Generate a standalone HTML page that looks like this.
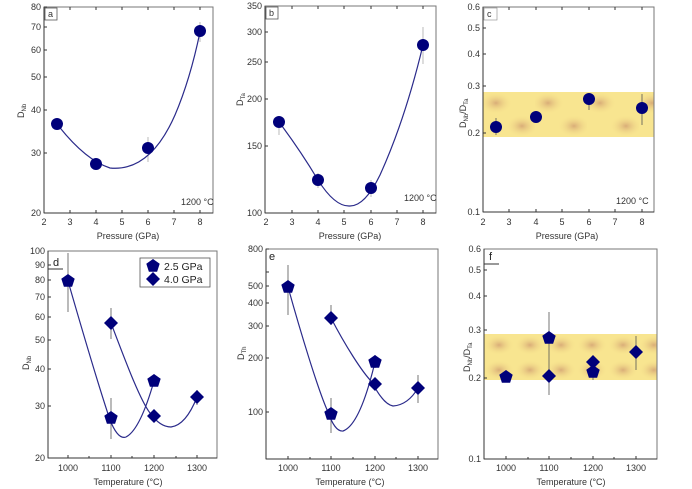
<!DOCTYPE html>
<html><head><meta charset="utf-8"><style>
html,body{margin:0;padding:0;background:#fff;}
svg{display:block;font-family:"Liberation Sans",sans-serif;}
.t{font-size:9px;fill:#333;}
.ax{font-size:9px;fill:#333;}
</style></head><body>
<svg width="692" height="489" viewBox="0 0 692 489" xmlns="http://www.w3.org/2000/svg">
<defs>
<path id="pent" d="M0,-7 L6.7,-2.2 L4.1,5.7 L-4.1,5.7 L-6.7,-2.2Z" fill="#00007a"/>
<path id="dia" d="M0,-7 L7,0 L0,7 L-7,0Z" fill="#00007a"/>
<radialGradient id="rg"><stop offset="0" stop-color="#d9ad78"/><stop offset="1" stop-color="#f7e28c" stop-opacity="0"/></radialGradient>
<pattern id="band1" x="483" y="92" width="52" height="45" patternUnits="userSpaceOnUse">
<rect width="52" height="45" fill="#f8e590"/>
<ellipse cx="13" cy="11" rx="16" ry="11" fill="url(#rg)"/>
<ellipse cx="39" cy="34" rx="16" ry="11" fill="url(#rg)"/>
</pattern>
<pattern id="band2" x="484" y="334" width="62" height="46" patternUnits="userSpaceOnUse">
<rect width="62" height="46" fill="#f8e590"/>
<ellipse cx="15" cy="11" rx="15" ry="10" fill="url(#rg)"/>
<ellipse cx="46" cy="11" rx="15" ry="10" fill="url(#rg)"/>
<ellipse cx="15" cy="36" rx="15" ry="10" fill="url(#rg)"/>
<ellipse cx="46" cy="36" rx="15" ry="10" fill="url(#rg)"/>
</pattern>
</defs>

<!-- ===== Panel a ===== -->
<rect x="44" y="7" width="169" height="206" fill="none" stroke="#777" stroke-width="1"/>
<g stroke="#333" stroke-width="1">
<line x1="44" y1="7" x2="44" y2="213"/><line x1="44" y1="213" x2="213" y2="213"/>
<path d="M44,153h3M44,110h3M44,77h3M44,50h3M44,27h3M44,7h3 M70,213v-3M96,213v-3M122,213v-3M148,213v-3M174,213v-3M200,213v-3 M70,7v3M96,7v3M122,7v3M148,7v3M174,7v3M200,7v3"/>
</g>
<g class="t" text-anchor="end"><text x="41" y="216">20</text><text x="41" y="156">30</text><text x="41" y="113">40</text><text x="41" y="80">50</text><text x="41" y="53">60</text><text x="41" y="30">70</text><text x="41" y="10">80</text></g>
<g class="t" text-anchor="middle"><text x="44" y="225">2</text><text x="70" y="225">3</text><text x="96" y="225">4</text><text x="122" y="225">5</text><text x="148" y="225">6</text><text x="174" y="225">7</text><text x="200" y="225">8</text></g>
<text class="ax" x="128" y="239" text-anchor="middle">Pressure (GPa)</text>
<text class="ax" transform="translate(24,118) rotate(-90)">D<tspan font-size="6" dy="2">Nb</tspan></text>
<rect x="45" y="8" width="12" height="12" fill="#fff" stroke="#555" stroke-width="0.8"/><text class="t" x="48" y="17">a</text>
<text class="t" x="181" y="205" font-size="8">1200 °C</text>
<path d="M148,137V162M200,22V42" stroke="#aaa" stroke-width="0.8"/>
<path d="M57,124 Q85,160 110,168 Q150,172 175,115 Q190,80 200,32" fill="none" stroke="#2a2a8a" stroke-width="1.2"/>
<g fill="#00007a"><circle cx="57" cy="124" r="6"/><circle cx="96" cy="164" r="6"/><circle cx="148" cy="148" r="6"/><circle cx="200" cy="31" r="6"/></g>

<!-- ===== Panel b ===== -->
<rect x="265" y="6" width="171" height="207" fill="none" stroke="#777"/>
<g stroke="#333"><line x1="265" y1="6" x2="265" y2="213"/><line x1="265" y1="213" x2="436" y2="213"/>
<path d="M265,146h3M265,99h3M265,62h3M265,32h3M292,213v-3M318,213v-3M344,213v-3M371,213v-3M397,213v-3M423,213v-3M292,6v3M318,6v3M344,6v3M371,6v3M397,6v3M423,6v3"/></g>
<g class="t" text-anchor="end"><text x="262" y="216">100</text><text x="262" y="149">150</text><text x="262" y="102">200</text><text x="262" y="65">250</text><text x="262" y="35">300</text><text x="262" y="9">350</text></g>
<g class="t" text-anchor="middle"><text x="266" y="225">2</text><text x="292" y="225">3</text><text x="318" y="225">4</text><text x="344" y="225">5</text><text x="371" y="225">6</text><text x="397" y="225">7</text><text x="423" y="225">8</text></g>
<text class="ax" x="350" y="239" text-anchor="middle">Pressure (GPa)</text>
<text class="ax" transform="translate(243,106) rotate(-90)">D<tspan font-size="6" dy="2">Ta</tspan></text>
<rect x="266" y="7" width="12" height="12" fill="#fff" stroke="#555" stroke-width="0.8"/><text class="t" x="269" y="16">b</text>
<text class="t" x="404" y="201" font-size="7">1200 °C</text>
<path d="M279,122V135M318,173V188M371,180V197M423,27V64" stroke="#aaa" stroke-width="0.8"/>
<path d="M279,122 Q300,150 318,180 Q335,207 350,206 Q365,206 380,175 Q405,120 423,45" fill="none" stroke="#2a2a8a" stroke-width="1.2"/>
<g fill="#00007a"><circle cx="279" cy="122" r="6"/><circle cx="318" cy="180" r="6"/><circle cx="371" cy="188" r="6"/><circle cx="423" cy="45" r="6"/></g>

<!-- ===== Panel c ===== -->
<rect x="483" y="92" width="171" height="45" fill="url(#band1)"/>
<rect x="483" y="7" width="171" height="205" fill="none" stroke="#777"/>
<g stroke="#333"><line x1="483" y1="7" x2="483" y2="212"/><line x1="483" y1="212" x2="654" y2="212"/>
<path d="M483,133h3M483,86h3M483,54h3M483,28h3M509,212v-3M536,212v-3M562,212v-3M589,212v-3M615,212v-3M642,212v-3M509,7v3M536,7v3M562,7v3M589,7v3M615,7v3M642,7v3"/></g>
<g class="t" text-anchor="end"><text x="480" y="215">0.1</text><text x="480" y="136">0.2</text><text x="480" y="89">0.3</text><text x="480" y="57">0.4</text><text x="480" y="31">0.5</text><text x="480" y="10">0.6</text></g>
<g class="t" text-anchor="middle"><text x="483" y="225">2</text><text x="509" y="225">3</text><text x="536" y="225">4</text><text x="562" y="225">5</text><text x="589" y="225">6</text><text x="615" y="225">7</text><text x="642" y="225">8</text></g>
<text class="ax" x="567" y="239" text-anchor="middle">Pressure (GPa)</text>
<text class="ax" transform="translate(466,128) rotate(-90)">D<tspan font-size="6" dy="2">Nb</tspan><tspan dy="-2">/D</tspan><tspan font-size="6" dy="2">Ta</tspan></text>
<rect x="484" y="8" width="13" height="12" fill="#fff" stroke="#888" stroke-width="0.6"/><text class="t" x="487" y="17">c</text>
<text class="t" x="616" y="204">1200 °C</text>
<path d="M496,118V135M536,112V122M589,97V110M642,94V125" stroke="#555" stroke-width="0.8"/>
<g fill="#00007a"><circle cx="496" cy="127" r="6"/><circle cx="536" cy="117" r="6"/><circle cx="589" cy="99" r="6"/><circle cx="642" cy="108" r="6"/></g>

<!-- ===== Panel d ===== -->
<rect x="48" y="251" width="169" height="207" fill="none" stroke="#777"/>
<g stroke="#333"><line x1="48" y1="251" x2="48" y2="458"/><line x1="48" y1="458" x2="217" y2="458"/>
<path d="M48,406h3M48,369h3M48,340h3M48,317h3M48,297h3M48,280h3M48,265h3M68,458v-3M111,458v-3M154,458v-3M197,458v-3M89,458v-2M132,458v-2M176,458v-2"/></g>
<g class="t" text-anchor="end"><text x="45" y="461">20</text><text x="45" y="409">30</text><text x="45" y="372">40</text><text x="45" y="343">50</text><text x="45" y="320">60</text><text x="45" y="300">70</text><text x="45" y="283">80</text><text x="45" y="268">90</text><text x="45" y="254">100</text></g>
<g class="t" text-anchor="middle"><text x="68" y="471">1000</text><text x="111" y="471">1100</text><text x="154" y="471">1200</text><text x="197" y="471">1300</text></g>
<text class="ax" x="128" y="485" text-anchor="middle">Temperature (°C)</text>
<text class="ax" transform="translate(29,370) rotate(-90)">D<tspan font-size="6" dy="2">Nb</tspan></text>
<text x="53" y="266" font-size="11" fill="#222">d</text><line x1="48" y1="269" x2="63" y2="269" stroke="#333"/>
<path d="M68,253V312M111,398V439M111,308V339M197,390V405" stroke="#555" stroke-width="0.8"/>
<path d="M68,281 C85,340 100,390 110,420 Q118,440 126,437 Q140,430 154,381" fill="none" stroke="#2a2a8a" stroke-width="1.2"/>
<path d="M111,323 C125,360 140,400 150,413 Q160,427 171,427 Q186,425 197,397" fill="none" stroke="#2a2a8a" stroke-width="1.2"/>
<use href="#pent" x="68" y="281"/><use href="#pent" x="111" y="418"/><use href="#pent" x="154" y="381"/>
<use href="#dia" x="111" y="323"/><use href="#dia" x="154" y="416"/><use href="#dia" x="197" y="397"/>
<rect x="140" y="258" width="70" height="29" fill="#fff" stroke="#555" stroke-width="0.8"/>
<use href="#pent" x="153" y="266" transform="translate(0,0)"/><use href="#dia" x="153" y="279"/>
<text x="164" y="270" font-size="10.5" fill="#222">2.5 GPa</text><text x="164" y="283" font-size="10.5" fill="#222">4.0 GPa</text>

<!-- ===== Panel e ===== -->
<rect x="266" y="249" width="172" height="210" fill="none" stroke="#777"/>
<g stroke="#333"><line x1="266" y1="249" x2="266" y2="459"/><line x1="266" y1="459" x2="438" y2="459"/>
<path d="M266,412h3M266,358h3M266,326h3M266,303h3M266,286h3M266,272h3M266,249h3M288,459v-3M331,459v-3M375,459v-3M418,459v-3M310,459v-2M353,459v-2M396,459v-2"/></g>
<g class="t" text-anchor="end"><text x="263" y="415">100</text><text x="263" y="361">200</text><text x="263" y="329">300</text><text x="263" y="306">400</text><text x="263" y="289">500</text><text x="263" y="252">800</text></g>
<g class="t" text-anchor="middle"><text x="288" y="471">1000</text><text x="331" y="471">1100</text><text x="375" y="471">1200</text><text x="418" y="471">1300</text></g>
<text class="ax" x="350" y="485" text-anchor="middle">Temperature (°C)</text>
<text class="ax" transform="translate(244,360) rotate(-90)">D<tspan font-size="6" dy="2">Th</tspan></text>
<text x="269" y="260" font-size="11" fill="#222">e</text>
<path d="M288,265V315M331,398V433M331,305V325M375,355V368M418,375V403" stroke="#555" stroke-width="0.8"/>
<path d="M288,287 C300,330 318,390 328,412 Q335,432 343,431 Q360,425 375,362" fill="none" stroke="#2a2a8a" stroke-width="1.2"/>
<path d="M331,318 C345,345 362,372 372,382 Q383,404 393,406 Q408,405 418,388" fill="none" stroke="#2a2a8a" stroke-width="1.2"/>
<use href="#pent" x="288" y="287"/><use href="#pent" x="331" y="414"/><use href="#pent" x="375" y="362"/>
<use href="#dia" x="331" y="318"/><use href="#dia" x="375" y="384"/><use href="#dia" x="418" y="388"/>

<!-- ===== Panel f ===== -->
<rect x="484" y="334" width="173" height="46" fill="url(#band2)"/>
<rect x="484" y="249" width="173" height="210" fill="none" stroke="#777"/>
<g stroke="#333"><line x1="484" y1="249" x2="484" y2="459"/><line x1="484" y1="459" x2="657" y2="459"/>
<path d="M484,378h3M484,330h3M484,296h3M484,270h3M506,459v-3M549,459v-3M593,459v-3M636,459v-3M528,459v-2M571,459v-2M614,459v-2"/></g>
<g class="t" text-anchor="end"><text x="481" y="462">0.1</text><text x="481" y="381">0.2</text><text x="481" y="333">0.3</text><text x="481" y="299">0.4</text><text x="481" y="273">0.5</text><text x="481" y="252">0.6</text></g>
<g class="t" text-anchor="middle"><text x="506" y="471">1000</text><text x="549" y="471">1100</text><text x="593" y="471">1200</text><text x="636" y="471">1300</text></g>
<text class="ax" x="571" y="485" text-anchor="middle">Temperature (°C)</text>
<text class="ax" transform="translate(470,372) rotate(-90)">D<tspan font-size="6" dy="2">Nb</tspan><tspan dy="-2">/D</tspan><tspan font-size="6" dy="2">Ta</tspan></text>
<text x="489" y="260" font-size="11" fill="#222">f</text><line x1="484" y1="264" x2="499" y2="264" stroke="#333"/>
<path d="M549,312V395M593,367V380M636,336V370" stroke="#555" stroke-width="0.8"/>
<use href="#pent" x="506" y="377"/><use href="#pent" x="549" y="338"/><use href="#pent" x="593" y="372"/>
<use href="#dia" x="549" y="376"/><use href="#dia" x="593" y="362"/><use href="#dia" x="636" y="352"/>
</svg>
</body></html>
